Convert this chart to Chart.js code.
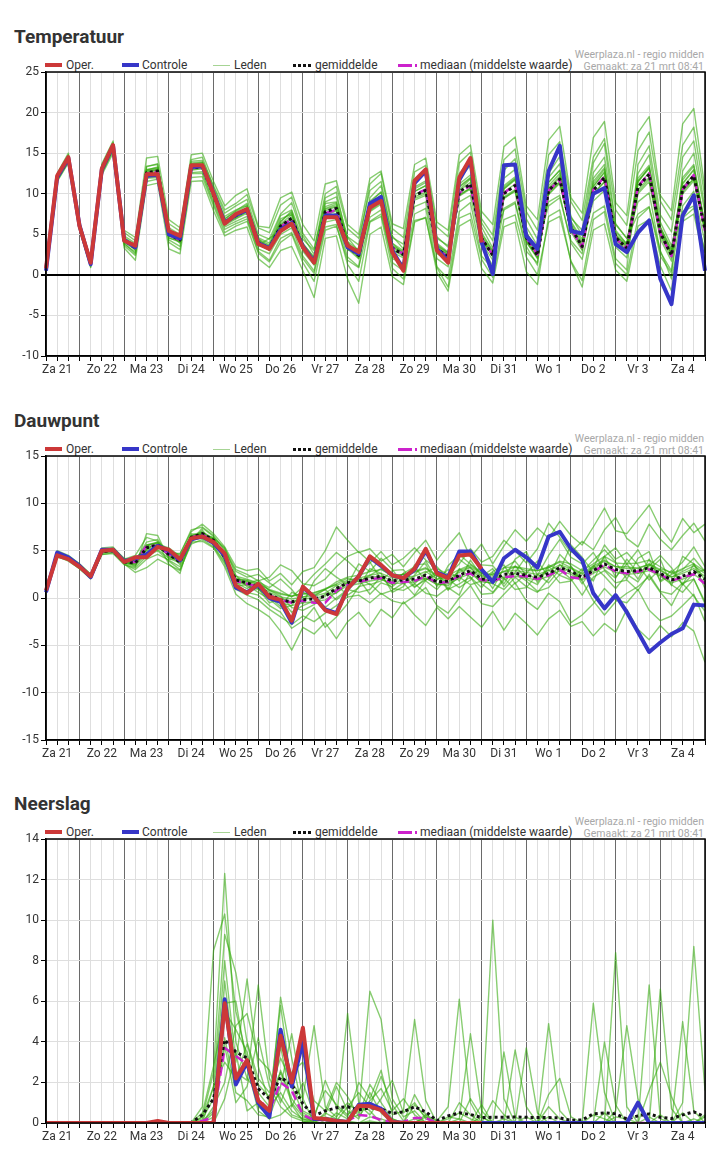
<!DOCTYPE html>
<html><head><meta charset="utf-8">
<script src="https://cdn.jsdelivr.net/npm/chart.js"></script>
<style>
body{margin:0;background:#fff;width:724px;height:1154px;position:relative;font-family:Roboto,Arial,sans-serif;overflow:hidden}
.title{position:absolute;left:14px;font-size:19px;font-weight:bold;color:#333;line-height:22px;white-space:nowrap}
.src{position:absolute;right:20px;font-size:10.5px;color:#a8a8a8;text-align:right;line-height:12px;white-space:nowrap}
.lg{position:absolute;font-size:12px;color:#333;line-height:14px;white-space:nowrap}
.ln{position:absolute}
canvas{position:absolute;left:0}
</style></head><body>
<script>
// ---------- DATA ----------
const dayLabels = ['Za 21','Zo 22','Ma 23','Di 24','Wo 25','Do 26','Vr 27','Za 28','Zo 29','Ma 30','Di 31','Wo 1','Do 2','Vr 3','Za 4'];
const N20 = [null,null,null,null,null,null,null,null,null,null,null,null,null,null,null,null,null,null,null,null];

// Temperatuur
const tempOper = [0.8,12.2,14.5,6.0, 1.5,13.1,16.0,4.2, 3.6,12.4,12.4,5.4, 4.8,13.5,13.5,10.0, 6.3,7.5,8.1,3.8, 3.2,5.4,6.3,3.4, 1.5,7.1,7.1,3.6, 2.8,8.3,9.1,2.8, 0.5,11.6,13.0,3.0, 1.5,12.0,14.4,4.0].concat(N20);
const tempCtrl = [0.5,12.0,14.4,6.1, 1.3,13.0,15.9,4.3, 3.4,12.2,12.3,5.0, 4.5,13.3,13.4,10.1, 6.4,7.4,8.0,3.9, 3.3,5.6,6.4,3.5, 1.6,7.3,7.3,3.4, 2.6,8.8,9.6,3.0, 0.7,11.3,12.8,3.2, 1.7,11.7,14.1,4.0, 0.1,13.5,13.6,4.8, 3.2,12.8,15.9,5.4, 5.1,10.0,10.7,3.8, 2.8,5.2,6.7,-0.5, -3.6,7.3,9.8,0.5];
const tempMean = [0.8,12.0,14.3,6.0, 1.4,13.0,15.8,4.3, 3.3,12.6,12.8,5.0, 4.3,13.2,13.3,9.8, 6.5,7.3,8.0,4.0, 3.3,6.0,7.0,3.5, 1.6,7.8,8.2,3.5, 2.4,8.3,9.3,3.3, 2.5,9.8,10.4,3.2, 2.2,10.2,11.2,4.5, 2.4,10.0,11.0,4.6, 2.4,10.4,11.8,5.8, 3.5,10.4,12.0,4.6, 3.3,10.8,12.4,5.2, 2.4,10.6,12.2,5.5];
const tempMedian = [0.8,12.0,14.3,6.0, 1.4,13.0,15.8,4.3, 3.3,12.5,12.7,4.9, 4.3,13.2,13.3,9.8, 6.4,7.3,8.0,4.0, 3.3,5.9,6.9,3.5, 1.6,7.6,8.0,3.4, 2.5,8.2,9.2,3.3, 2.6,9.9,10.5,3.2, 2.2,10.1,11.0,4.4, 2.5,10.1,11.1,4.6, 2.5,10.4,11.7,5.7, 3.4,10.5,12.1,4.5, 3.2,10.9,12.5,5.1, 2.3,10.5,12.3,5.4];
const tempMembers = [
 [1.0,12.4,14.8,6.3, 1.7,13.4,16.2,4.8, 3.9,13.4,13.6,5.8, 5.0,14.2,14.5,10.8, 7.6,8.5,9.3,5.0, 4.4,7.5,8.9,4.8, 2.5,9.5,10.2,4.1, 2.0,7.1,8.0,1.5, 0.5,7.5,8.2,1.0, -0.5,7.8,8.9,2.3, 0.8,8.2,9.0,3.5, 1.2,12.5,14.6,7.0, 5.5,13.8,16.2,6.3, 4.5,9.0,10.1,2.8, 0.5,8.5,10.3,4.0],
 [0.5,11.6,13.9,5.6, 1.0,12.6,15.3,3.6, 2.4,11.5,11.8,4.0, 3.1,12.0,12.1,8.5, 5.2,6.0,6.6,2.7, 1.6,4.0,5.0,1.5, -0.8,5.5,6.0,1.8, 0.9,9.5,11.0,4.6, 3.8,11.6,12.9,4.5, 3.6,12.5,14.2,6.4, 4.2,12.9,14.3,6.9, 4.4,9.0,9.8,3.9, 1.9,7.6,8.5,2.0, 0.6,13.6,15.9,7.4, 5.3,14.5,16.5,8.2],
 [0.9,12.2,14.5,6.1, 1.6,13.3,16.1,4.6, 3.0,13.3,13.7,4.6, 4.0,13.8,13.9,9.5, 6.9,7.9,8.8,4.6, 3.9,7.3,8.0,4.4, 3.0,10.0,10.9,5.7, 4.5,10.4,11.5,4.8, 3.2,8.4,9.0,2.0, 1.0,11.8,13.5,5.9, 3.3,8.0,8.8,2.9, 1.5,12.0,13.7,7.2, 4.9,12.6,14.5,6.2, 4.5,7.5,8.4,2.3, 0.2,12.8,15.0,7.6],
 [0.7,11.8,14.0,5.8, 1.2,12.7,15.5,3.8, 2.8,12.0,12.2,5.4, 4.9,12.6,12.7,9.1, 5.9,6.6,7.2,3.2, 2.6,5.0,5.8,2.3, 0.5,6.5,6.8,2.2, 1.0,6.6,7.5,2.0, 1.4,11.8,12.6,4.7, 3.4,9.0,9.8,3.5, 1.1,11.9,13.0,5.9, 3.6,8.5,9.5,4.2, 2.6,10.9,12.7,5.5, 3.8,12.5,14.8,6.5, 3.6,7.0,8.2,3.0],
 [0.8,12.1,14.4,6.2, 1.5,13.1,15.9,4.1, 3.6,12.9,13.1,4.8, 4.5,13.6,13.8,10.4, 7.2,8.0,8.6,4.5, 3.0,6.5,7.9,2.9, 1.2,7.0,7.6,3.0, 3.3,8.9,10.2,3.9, 2.6,10.3,11.0,3.6, 2.7,10.9,12.0,4.0, 1.8,9.5,10.3,4.0, 2.2,10.7,12.2,6.1, 3.9,9.1,10.4,3.4, 2.1,10.0,11.5,4.4, 1.7,10.4,11.8,5.9],
 [0.6,11.9,14.2,5.9, 1.3,12.8,15.6,4.4, 3.3,12.5,12.6,5.1, 3.9,12.9,13.1,9.9, 6.1,6.9,7.6,3.6, 4.5,5.5,6.3,3.8, 2.2,8.2,8.7,4.6, 2.9,7.8,8.7,2.8, 2.1,9.2,9.8,3.7, 2.7,9.7,10.6,5.0, 2.9,10.6,11.8,5.2, 3.0,11.4,12.9,6.6, 4.4,11.2,13.0,5.0, 3.5,11.6,13.2,5.9, 3.2,11.3,13.0,6.2],
 [0.9,12.3,14.6,6.4, 1.8,13.5,16.3,5.2, 4.2,13.0,13.2,6.3, 5.4,14.0,14.1,11.0, 8.0,8.8,9.9,5.8, 5.2,8.6,9.6,5.1, 3.2,9.0,9.6,4.7, 3.7,11.2,12.5,5.7, 4.6,12.7,13.5,5.9, 4.7,13.8,15.1,6.9, 4.9,14.2,15.5,7.8, 5.5,14.8,16.4,9.0, 6.7,14.5,16.8,8.0, 6.1,15.3,17.6,9.1, 6.8,16.0,18.2,9.5],
 [0.7,11.7,14.1,5.7, 1.1,12.5,15.4,3.9, 2.6,11.9,12.0,4.3, 3.5,12.5,12.5,8.8, 5.6,6.3,6.9,2.9, 1.8,4.5,5.2,2.0, 0.2,5.9,6.2,1.3, -0.8,6.5,7.2,0.8, -0.5,6.7,7.0,0.9, -1.5,7.0,7.6,1.9, -0.3,6.8,7.4,2.2, 0.0,6.5,7.2,1.7, -0.7,6.8,7.8,1.4, 0.0,7.0,8.3,3.0, -0.5,6.6,7.5,1.3],
 [0.8,12.0,14.3,6.0, 1.4,13.0,15.8,4.5, 3.5,12.7,12.9,4.5, 4.2,13.0,13.5,10.1, 6.7,7.5,8.2,3.6, 3.5,6.2,6.8,3.1, 1.8,8.8,9.0,3.9, 2.6,8.9,9.6,3.6, 2.9,10.8,11.6,2.6, 1.8,10.5,11.8,4.1, 2.4,10.8,11.9,4.1, 2.0,10.0,11.4,5.3, 3.0,11.9,13.6,4.7, 3.5,11.4,13.3,5.6, 2.5,12.0,13.6,6.0],
 [0.9,12.1,14.2,6.2, 1.5,13.2,15.7,4.0, 3.1,12.3,12.6,5.3, 4.6,13.4,13.2,10.0, 6.3,7.1,7.8,4.2, 3.6,6.9,7.5,3.3, 1.5,7.5,8.0,3.3, 2.2,8.0,9.1,3.4, 2.8,9.6,10.2,3.3, 2.5,9.9,10.7,4.7, 2.7,9.4,10.4,4.2, 2.6,10.2,11.5,5.6, 3.4,10.0,11.5,4.3, 3.0,10.5,12.0,5.0, 2.6,10.2,11.9,5.4],
 [0.9,12.5,15.0,6.5, 1.9,13.7,16.5,5.5, 4.6,14.4,14.6,6.8, 5.8,14.8,15.0,11.5, 8.5,9.8,10.6,6.0, 5.8,9.5,10.2,6.2, 4.2,11.2,11.6,6.2, 5.0,11.9,12.8,6.3, 5.7,13.6,14.4,6.5, 5.5,14.8,16.0,7.8, 6.2,15.8,17.0,8.5, 6.8,16.6,18.3,9.5, 7.6,16.9,18.9,8.9, 7.3,17.5,19.5,9.8, 7.9,18.6,20.5,10.5],
 [0.6,11.5,13.8,5.5, 0.9,12.3,15.0,3.3, 1.8,11.0,11.3,3.2, 2.6,11.5,11.6,7.9, 4.8,5.5,5.9,2.0, 0.9,3.0,3.5,0.5, -2.8,4.5,4.8,-0.5, -3.5,5.0,5.9,-0.2, -1.2,6.5,7.1,0.3, -2.0,6.0,6.8,0.8, -1.0,5.9,6.5,0.4, -1.2,7.2,8.0,1.6, -1.5,5.5,6.3,0.6, -0.8,6.0,6.8,1.1, -2.0,7.8,8.5,2.7],
 [0.7,12.1,14.4,6.1, 1.5,13.1,15.9,4.4, 3.2,12.8,13.0,5.2, 4.4,13.4,13.5,10.0, 6.6,7.5,8.3,4.2, 3.1,6.3,7.4,3.7, 1.9,8.1,8.5,3.8, 2.8,8.7,9.8,3.6, 2.3,10.3,11.0,3.5, 2.5,10.8,11.9,4.8, 2.2,10.6,11.7,4.9, 2.7,11.0,12.5,6.2, 3.1,10.9,12.6,4.9, 3.7,11.5,13.1,5.6, 2.8,11.2,12.9,5.9],
 [0.8,11.9,14.2,5.9, 1.3,12.9,15.7,4.2, 3.2,12.4,12.6,4.8, 4.1,13.0,13.1,9.6, 6.3,7.0,7.8,3.8, 3.0,5.6,6.6,3.2, 1.3,7.3,7.9,3.2, 2.0,7.9,8.9,3.0, 2.7,9.4,10.0,2.9, 1.9,9.8,10.7,4.2, 2.6,9.6,10.5,4.3, 2.1,9.9,11.3,5.4, 3.7,10.0,11.4,4.4, 2.9,10.2,11.8,4.8, 2.1,10.0,11.6,5.2],
 [0.8,12.0,14.4,6.0, 1.4,13.0,15.8,4.3, 3.4,12.6,12.9,5.0, 4.3,13.3,13.4,9.9, 6.5,7.2,8.0,3.9, 3.4,6.1,7.1,3.6, 1.7,7.9,8.4,3.6, 2.5,8.5,9.5,3.1, 2.3,9.9,10.6,3.3, 2.4,10.4,11.4,4.6, 2.3,10.2,11.2,4.7, 2.5,10.5,12.0,5.9, 3.6,10.6,12.2,4.8, 3.2,11.0,12.6,5.3, 2.5,10.8,12.4,5.6],
 [0.9,12.2,14.6,6.1, 1.6,13.2,16.0,4.6, 3.7,12.9,13.3,5.4, 4.7,13.7,13.8,10.3, 6.9,7.8,8.5,4.4, 3.7,6.6,7.7,3.9, 2.1,8.4,8.9,4.1, 3.0,9.1,10.2,3.9, 3.0,10.6,11.4,3.9, 2.8,11.2,12.3,5.2, 3.0,11.0,12.1,5.3, 2.9,11.4,12.9,6.4, 4.1,11.5,13.2,5.3, 3.8,11.9,13.5,5.9, 3.0,11.7,13.4,6.2]
];

// Dauwpunt
const dewOper = [0.8,4.5,4.1,3.3, 2.3,5.0,5.1,3.8, 4.3,4.3,5.4,5.1, 4.1,6.3,6.5,5.9, 4.7,1.3,0.5,1.5, 0.1,-0.2,-2.4,1.2, 0.1,-1.3,-1.7,1.0, 2.3,4.4,3.5,2.4, 2.1,3.1,5.2,2.6, 2.1,4.5,4.6,3.1].concat(N20);
const dewCtrl = [0.6,4.8,4.3,3.4, 2.2,5.1,5.1,3.9, 4.2,4.6,5.5,5.0, 4.0,6.2,6.5,5.8, 4.5,1.1,0.6,1.4, 0.0,-0.4,-2.6,1.1, 0.1,-1.2,-1.6,1.0, 2.3,4.3,3.4,2.4, 2.1,3.0,5.0,2.7, 2.2,4.9,4.9,3.0, 1.7,4.2,5.1,4.3, 3.2,6.5,7.0,5.2, 4.0,0.5,-1.1,0.3, -1.5,-3.6,-5.7,-4.7, -3.8,-3.2,-0.7,-0.8];
const dewMean = [0.8,4.6,4.2,3.4, 2.3,4.9,5.0,3.8, 3.7,5.3,5.6,4.6, 3.8,6.4,6.8,6.1, 4.3,1.9,1.6,1.2, 0.4,-0.2,-0.4,-0.2, -0.1,0.2,1.0,1.6, 1.8,2.1,2.3,1.8, 1.9,2.0,2.4,1.7, 1.8,2.4,2.9,2.0, 1.9,2.5,2.6,2.4, 2.2,2.6,3.2,2.8, 2.2,2.9,3.6,3.0, 2.8,2.9,3.2,2.6, 1.9,2.3,2.8,2.0];
const dewMedian = [0.8,4.6,4.2,3.4, 2.3,4.9,5.0,3.8, 3.8,5.5,5.5,4.6, 3.9,6.4,6.7,6.0, 4.3,1.8,1.5,1.2, 0.3,-0.2,-0.5,-0.3, -0.5,-0.5,0.8,1.4, 1.7,2.0,2.1,1.6, 1.7,1.8,2.3,1.6, 1.7,2.3,2.6,1.9, 1.8,2.2,2.3,2.3, 2.0,2.4,3.0,2.2, 2.0,2.8,3.5,2.8, 2.6,2.8,3.0,2.5, 1.8,2.2,2.5,1.5];
const dewMembers = [
 [0.9,5.0,4.5,3.6, 2.5,5.3,5.4,4.1, 4.5,6.4,6.0,4.9, 4.6,7.2,7.5,6.6, 5.0,2.8,2.2,2.5, 1.6,0.8,0.1,1.2, 2.5,3.6,4.8,3.9, 2.8,3.7,4.9,3.5, 4.2,5.3,4.0,3.1, 2.5,3.6,5.2,3.8, 4.4,6.1,5.0,3.7, 5.2,7.9,6.4,4.8, 6.0,5.1,7.2,8.5, 6.3,5.4,7.8,6.2, 5.1,6.6,7.9,6.0],
 [0.7,4.3,4.0,3.1, 2.0,4.6,4.7,3.5, 3.2,4.4,5.0,3.9, 3.0,5.7,6.2,5.4, 3.6,0.9,0.3,-0.2, -1.2,-2.0,-2.8,-1.9, -2.5,-1.6,-0.8,0.1, 0.3,-0.5,0.5,-0.3, -0.6,0.2,1.1,-0.8, -1.6,0.0,1.3,-0.6, -0.9,0.4,1.6,-0.3, -1.2,0.5,-0.4,-2.6, -1.8,-0.6,1.0,-0.2, -0.5,0.9,-1.3,-2.4, -1.9,-0.8,0.4,-2.5],
 [0.8,4.7,4.3,3.5, 2.4,5.0,5.2,4.0, 3.9,5.9,6.2,4.3, 4.2,6.8,6.6,6.3, 5.2,3.0,2.5,1.8, 2.2,3.5,2.9,1.5, 1.3,2.0,3.3,4.4, 4.9,3.8,2.0,1.4, 2.6,3.3,1.8,0.9, 2.3,4.1,3.2,1.9, 2.8,3.5,1.5,2.6, 3.9,2.2,4.6,3.4, 1.5,3.2,5.6,4.1, 4.8,3.5,1.9,3.1, 2.7,3.8,5.4,3.3],
 [0.6,4.4,4.1,3.2, 2.2,4.8,4.9,3.7, 3.5,5.0,5.3,4.8, 3.5,6.1,6.9,6.0, 4.0,1.2,0.6,0.3, -0.8,-1.5,-3.2,-2.4, -1.0,-3.1,-2.0,-0.6, 1.2,1.5,0.4,0.8, 1.6,0.3,1.9,2.8, 0.9,1.5,2.2,0.4, 0.5,1.9,2.6,1.8, 0.7,1.1,2.5,3.3, 1.8,-0.3,-1.8,-0.4, 0.5,1.2,2.3,0.6, -0.8,1.5,0.2,-1.4],
 [0.8,4.9,4.4,3.4, 2.3,5.2,5.0,3.6, 3.0,4.1,4.6,4.0, 3.3,5.8,7.2,5.5, 3.8,1.9,1.5,1.9, 0.8,0.2,-1.0,-1.3, -0.7,0.4,0.5,1.6, 2.2,1.4,1.8,2.9, 3.0,1.5,2.7,3.3, 2.0,1.1,1.9,3.5, 3.4,2.0,4.1,4.9, 2.4,4.5,6.2,4.3, 3.6,4.8,3.0,2.1, 4.1,2.6,3.4,4.5, 3.2,1.4,2.6,3.0],
 [0.7,4.6,4.2,3.3, 2.3,4.7,5.1,3.9, 4.0,5.6,5.8,3.6, 2.6,6.6,6.7,6.4, 5.3,2.4,1.2,0.9, 0.1,-0.9,0.6,0.1, 0.5,1.0,1.4,0.3, 1.1,3.1,2.6,0.6, 1.2,3.5,3.6,1.2, 3.4,4.6,3.6,2.7, 1.0,3.2,3.9,2.4, 2.1,3.0,1.6,1.8, 2.8,4.0,5.1,3.8, 2.0,4.2,4.9,1.7, 2.5,3.0,4.2,2.8],
 [0.8,4.5,4.0,3.5, 2.4,4.9,5.0,3.8, 3.6,5.2,5.7,5.3, 4.4,6.5,6.4,5.7, 4.6,1.5,1.8,1.0, -0.5,-0.1,-1.5,-0.8, -0.3,-1.0,0.0,0.9, 0.6,0.9,2.3,1.0, 0.8,1.5,0.5,0.2, 1.1,0.3,2.9,1.5, 0.6,2.1,0.9,1.1, 2.5,1.6,3.0,2.0, 0.3,2.2,2.9,1.6, 1.9,0.8,2.5,0.7, 0.4,1.6,2.0,-0.6],
 [0.9,4.7,4.4,3.6, 2.5,5.1,5.3,4.2, 3.8,5.5,5.9,4.7, 4.7,7.0,7.8,6.8, 5.4,3.3,2.9,3.1, 1.8,2.6,1.4,2.8, 3.2,5.0,7.5,6.1, 4.8,5.2,3.9,4.6, 3.3,4.8,6.1,4.0, 5.5,6.9,4.3,5.7, 3.6,5.5,7.2,6.0, 7.4,6.3,8.1,6.6, 5.6,7.5,9.5,7.1, 6.8,8.3,9.8,7.4, 5.9,8.4,6.9,7.8],
 [0.7,4.4,3.9,3.1, 2.1,4.6,4.8,3.6, 2.7,3.2,4.1,3.5, 2.9,5.9,6.0,5.3, 3.3,0.4,-0.6,-1.2, -2.0,-3.5,-5.5,-3.1, -3.8,-2.6,-4.3,-2.5, -1.5,-3.0,-1.2,-2.1, -0.4,-1.8,-2.9,-1.0, -2.2,-0.9,-2.0,-3.1, -1.4,-3.4,-1.6,-2.7, -3.9,-2.2,-1.3,-3.0, -2.5,-4.0,-2.7,-3.6, -1.2,-3.3,-4.4,-2.9, -4.1,-2.6,-3.5,-6.8],
 [0.8,4.6,4.2,3.4, 2.3,4.9,5.0,3.8, 4.1,5.4,5.5,4.4, 3.9,6.2,6.8,6.1, 4.4,2.0,1.9,1.5, 0.9,0.5,0.2,0.4, 0.6,0.9,1.5,2.1, 1.7,2.4,3.1,2.3, 2.5,2.8,3.2,2.4, 1.6,2.9,3.3,2.6, 2.4,2.8,3.3,2.9, 2.9,3.2,3.8,3.2, 2.6,3.4,4.0,3.3, 3.3,3.1,3.6,3.0, 2.2,2.8,3.4,2.6],
 [0.8,4.7,4.1,3.3, 2.2,4.9,4.9,3.7, 3.3,6.8,6.6,4.1, 4.2,6.0,7.4,6.5, 3.9,1.6,1.0,1.7, 1.1,2.0,0.9,-0.6, 1.8,3.1,2.2,1.4, 3.6,2.8,4.2,3.0, 1.5,2.4,3.9,1.9, 3.0,1.8,4.0,2.3, 3.1,1.2,2.7,4.4, 1.6,3.5,2.9,5.6, 4.3,2.7,4.4,5.3, 3.6,5.1,3.0,4.1, 1.3,4.4,3.6,1.9],
 [0.7,4.5,4.3,3.4, 2.4,4.8,5.1,3.9, 3.4,4.7,5.1,4.2, 3.7,6.6,6.3,5.9, 4.1,1.3,1.4,0.6, -0.1,-1.1,-0.8,0.6, 0.2,0.9,-0.2,0.8, 2.0,0.4,1.6,1.2, 2.2,1.1,2.1,1.5, 1.3,2.2,1.4,1.8, 1.5,0.9,2.2,1.2, 0.6,2.0,3.5,2.7, 2.0,3.4,2.3,1.0, 2.5,1.7,3.6,2.4, 1.4,0.6,2.0,-0.4],
 [0.8,4.6,4.2,3.4, 2.3,5.0,5.1,3.9, 3.8,5.5,5.8,4.7, 3.9,6.5,6.9,6.2, 4.4,2.1,1.8,1.4, 0.6,0.1,-0.1,0.1, 0.2,0.5,1.3,1.9, 2.1,2.4,2.6,2.1, 2.2,2.3,2.8,2.0, 2.1,2.7,3.2,2.3, 2.2,2.8,2.9,2.7, 2.5,2.9,3.5,3.1, 2.5,3.2,3.9,3.3, 3.1,3.2,3.5,2.9, 2.2,2.6,3.1,2.3],
 [0.7,4.5,4.1,3.3, 2.2,4.8,4.9,3.7, 3.6,5.1,5.4,4.5, 3.7,6.3,6.7,6.0, 4.2,1.7,1.4,1.0, 0.2,-0.5,-0.8,-0.5, -0.4,-0.2,0.6,1.3, 1.5,1.8,2.0,1.5, 1.6,1.7,2.1,1.4, 1.5,2.1,2.6,1.7, 1.6,2.2,2.3,2.1, 1.9,2.3,2.9,2.5, 1.9,2.6,3.3,2.7, 2.5,2.6,2.9,2.3, 1.6,2.0,2.5,1.7],
 [0.8,4.7,4.3,3.4, 2.3,4.9,5.0,3.8, 3.7,5.3,5.6,4.6, 3.8,6.4,6.8,6.1, 4.3,2.0,1.6,1.3, 0.4,-0.1,-0.4,-0.1, 0.0,0.2,1.0,1.7, 1.8,2.2,2.3,1.8, 2.6,1.2,1.9,2.5, 0.8,3.1,2.2,1.1, 2.7,1.5,3.4,2.0, 1.4,3.3,2.4,1.9, 3.1,1.8,4.4,2.2, 3.6,2.0,4.1,1.8, 2.9,1.4,3.6,1.0],
 [0.9,4.8,4.4,3.5, 2.4,5.1,5.2,4.0, 3.9,5.6,5.9,4.8, 4.0,6.6,7.0,6.3, 4.6,2.3,2.0,1.6, 0.8,0.4,0.2,0.5, 0.3,0.9,1.7,2.2, 2.4,2.8,3.0,2.4, 2.5,2.7,3.1,2.3, 2.4,3.0,3.5,2.6, 2.5,3.2,3.3,3.1, 2.9,3.3,3.9,3.6, 2.9,3.6,4.4,3.7, 3.6,3.7,4.0,3.3, 2.6,3.1,3.6,2.8]
];

// Neerslag
const rainOper = [0,0,0,0, 0,0,0,0, 0,0,0.1,0, 0,0,0,0, 5.9,2.2,3.1,1.1, 0.6,4.3,2.0,4.7, 0.25,0.2,0.1,0.05, 0.85,0.82,0.63,0.05, 0,0,0,0, 0,0,0,0].concat(N20);
const rainCtrl = [0,0,0,0, 0,0,0,0, 0,0,0,0, 0,0,0,0, 6.1,1.9,3.0,1.0, 0.3,4.6,1.8,4.0, 0.2,0.2,0.1,0.05, 0.9,0.95,0.7,0.05, 0,0,0,0, 0,0,0,0, 0,0,0,0, 0,0,0,0, 0,0,0,0, 0,1.0,0,0, 0,0,0,0];
const rainMean = [0,0,0,0, 0,0,0,0, 0,0,0,0, 0,0.02,0.4,1.2, 4.1,3.5,3.2,1.7, 1.2,2.25,1.9,0.95, 0.35,0.6,0.75,0.8, 0.65,0.75,0.7,0.47, 0.55,0.8,0.55,0.12, 0.35,0.5,0.42,0.27, 0.28,0.28,0.3,0.28, 0.27,0.27,0.25,0.13, 0.15,0.45,0.5,0.45, 0.2,0.35,0.45,0.28, 0.22,0.4,0.55,0.3];
const rainMedian = [0,0,0,0, 0,0,0,0, 0,0,0,0, 0,0,0.1,0.3, 3.7,3.3,2.9,1.2, 0.6,2.0,1.6,0.4, 0.15,0.15,0.1,0.1, 0.4,0.35,0.15,0.05, 0.05,0.25,0.25,0, 0,0,0,0, 0,0,0,0, 0,0,0,0, 0,0,0,0, 0,0,0,0, 0,0,0,0];
const rainMembers = [
 [0,0,0,0, 0,0,0,0, 0,0,0,0, 0,0,0.3,2.5, 12.3,4.0,2.2,1.5, 0.8,1.5,0.6,0.2, 0.1,0.4,1.8,0.6, 0.2,1.5,0.5,0, 0,0,0.3,0, 0,0.2,0,0, 10.0,1.2,0,0, 0,0.3,0,0, 0,0,0.5,0, 0,0,0,0.4, 0,0,0.2,0],
 [0,0,0,0, 0,0,0,0, 0,0,0,0, 0,0,0.8,8.5, 10.3,5.5,3.2,0.8, 0.4,2.6,1.2,0.4, 0,0,0.2,5.4, 1.0,0.6,0,0, 0,1.4,0.4,0, 0,0,0,0.3, 0,0,3.6,0.8, 0,0,0,0, 0,5.9,1.5,0, 0,0,0.3,0, 0,1.0,8.7,1.6],
 [0,0,0,0, 0,0,0,0, 0,0,0,0, 0,0,0,1.8, 9.3,7.4,4.0,2.2, 1.5,3.2,2.0,1.2, 4.8,0.8,0.3,1.0, 0.5,6.5,5.1,1.2, 0.3,0.6,0,0, 0,0,0,0, 0,0,0,0, 0,4.9,0.6,0, 0,0,0,8.4, 0.8,0,0,0, 0,0,0,0],
 [0,0,0,0, 0,0,0,0, 0,0,0,0, 0,0,0.2,1.2, 8.0,3.0,7.1,2.8, 1.0,5.8,1.8,0.5, 0.2,2.1,0.8,0.3, 2.0,1.2,2.6,0.4, 0.6,5.1,1.1,0, 0,1.0,0.4,0, 0,0,0,0, 0,0.8,0.2,0, 0,0,4.0,0.9, 0,0,6.8,0.2, 0,0.5,0,0],
 [0,0,0,0, 0,0,0,0, 0,0,0,0, 0,0,0,0.5, 7.0,2.5,2.1,6.8, 2.2,1.2,0.4,0.2, 0,0.3,0.1,0.8, 1.5,0.8,2.3,0.9, 0.1,0,0.4,0.1, 0.8,6.1,1.0,0, 0,0,0,0, 0,0,0,0, 0,0,0,0.6, 4.8,1.2,0,0, 0,0,0,0.3],
 [0,0,0,0, 0,0,0,0, 0,0,0,0, 0,0,0.5,2.8, 5.5,4.6,3.5,1.2, 0.5,6.2,3.2,0.6, 0.3,0,0.5,0.2, 0.4,1.9,1.0,0.2, 0,0.9,0.3,0, 0.3,0.2,4.4,0.6, 0,0,0,3.7, 0.5,0,0,0, 0,0,0,0, 0,0,0,6.6, 0.7,0,0,0],
 [0,0,0,0, 0,0,0,0, 0,0,0,0, 0,0,0,0, 4.2,1.5,1.1,0.4, 0.3,1.8,4.4,1.2, 0,0.5,0.2,0.1, 0,0.3,0.2,0, 0,0.2,0,0, 0,0,0,0, 0,3.5,0.3,0, 0,0,0,0, 0,0,0,0, 0,0,0,0, 0,5.0,0.6,0],
 [0,0,0,0, 0,0,0,0, 0,0,0,0, 0,0,0.3,1.8, 3.0,2.2,3.9,1.9, 1.3,2.5,1.0,0.3, 0.1,0.2,0,0, 0,0.1,0,0.2, 0,0,0,0, 0,0,1.2,0.3, 0,0,0,0, 0,0,0,0, 0,0.4,0.2,0, 0,0,0,0, 0,0,0,0],
 [0,0,0,0, 0,0,0,0, 0,0,0,0, 0,0,0,0.8, 2.0,4.8,5.4,3.2, 2.6,1.0,2.5,3.0, 1.1,0.6,2.0,1.3, 0.3,1.1,1.7,0.6, 1.2,0.4,0,0, 0,0,0,0.9, 0,0,0,0, 0,1.4,2.2,0.3, 0,0,0,0, 0,0,1.6,3.0, 1.3,0,0,0],
 [0,0,0,0, 0,0,0,0, 0,0,0,0, 0,0,0,0, 1.2,3.5,0.6,1.0, 0.2,0.4,0.9,0.1, 0,0,0,0, 0,0,0,0, 0,0,0,0, 0,0,0,0, 0,0,0,0, 0,0,0,0, 0,0,0,0, 0,0,0,0, 0,0,0,0],
 [0,0,0,0, 0,0,0,0, 0,0,0,0, 0,0,0.1,0.6, 5.9,6.0,2.8,0.6, 0.2,3.8,0.8,2.0, 0.4,1.6,0.9,0.4, 0.9,0.4,1.2,2.1, 0.5,1.0,0.2,0, 0.2,0.5,0.2,0, 1.1,0.4,0,0.3, 0,0,0,0, 0,0,0,0.3, 0.2,0,0,0, 0,0,0,0.4],
 [0,0,0,0, 0,0,0,0, 0,0,0,0, 0,0,0,0.3, 3.8,1.0,1.8,4.2, 1.8,0.8,0.3,0.1, 0,0,0,0, 0,0,0,0, 0,0,0,0, 0,0,0,0, 0,0.2,0,0, 0,0,0,0, 0.1,0,0,0, 0,0,0,0, 0,0,0,0]
];

// ---------- STYLE ----------
const C_OPER = '#cc3838', C_CTRL = '#3636c8', C_MEAN = '#111', C_MED = '#cc22cc', C_MEM = 'rgba(50,168,10,0.58)';
Chart.defaults.font.family = 'Roboto, Arial, sans-serif';
Chart.defaults.font.size = 12;
Chart.defaults.color = '#333';

const frame = {id:'frame', afterDraw(c){const a=c.chartArea, x=c.ctx; x.save(); x.strokeStyle='#000'; x.lineWidth=1.5; x.strokeRect(a.left, a.top, a.right-a.left, a.bottom-a.top); x.restore();}};

const OFFS = [0, 384, 767];
const panels = [
 {title:'Temperatuur', min:-10, max:25, step:5, zero:true, oper:tempOper, ctrl:tempCtrl, mean:tempMean, median:tempMedian, members:tempMembers},
 {title:'Dauwpunt', min:-15, max:15, step:5, zero:false, oper:dewOper, ctrl:dewCtrl, mean:dewMean, median:dewMedian, members:dewMembers},
 {title:'Neerslag', min:0, max:14, step:2, zero:false, oper:rainOper, ctrl:rainCtrl, mean:rainMean, median:rainMedian, members:rainMembers}
];

function el(tag, cls, css, text){const e=document.createElement(tag); if(cls) e.className=cls; Object.assign(e.style, css||{}); if(text!==undefined) e.textContent=text; document.body.appendChild(e); return e;}

function legend(yc){
  const items = [
    {x:45,w:17,h:4,bg:C_OPER,tx:66,t:'Oper.'},
    {x:122,w:17,h:4,bg:C_CTRL,tx:142,t:'Controle'},
    {x:213,w:17,h:1,bg:'#a6d494',tx:234,t:'Leden'},
    {x:293,w:19,h:3,bg:'repeating-linear-gradient(90deg,#111 0 3px,transparent 3px 5px)',tx:315,t:'gemiddelde'},
    {x:398,w:20,h:3,bg:'linear-gradient(90deg,'+C_MED+' 0 14px,transparent 14px 17px,'+C_MED+' 17px 19px,transparent 19px)',tx:420,t:'mediaan (middelste waarde)'}
  ];
  items.forEach(it=>{
    el('div','ln',{left:it.x+'px',top:(yc-it.h/2)+'px',width:it.w+'px',height:it.h+'px',background:it.bg});
    el('div','lg',{left:it.tx+'px',top:(yc-7)+'px'},it.t);
  });
}

const xIdx = Array.from({length:60},(_, i)=>String(i));

panels.forEach((p, k)=>{
  const o = OFFS[k];
  el('div','title',{top:(26+o)+'px'},p.title);
  el('div','src',{top:(49+o)+'px'},'Weerplaza.nl - regio midden');
  el('div','src',{top:(61+o)+'px'},'Gemaakt: za 21 mrt 08:41');
  legend(65+o);
  const cv = document.createElement('canvas');
  cv.width = 724; cv.height = 326;
  cv.style.top = (62+o)+'px'; cv.style.width='724px'; cv.style.height='326px';
  document.body.appendChild(cv);
  const base = {pointRadius:0, tension:0, fill:false, spanGaps:false, borderJoinStyle:'round'};
  const ds = [
    Object.assign({label:'Oper.', data:p.oper, borderColor:C_OPER, borderWidth:4}, base),
    Object.assign({label:'Controle', data:p.ctrl, borderColor:C_CTRL, borderWidth:4}, base),
    Object.assign({label:'gemiddelde', data:p.mean, borderColor:C_MEAN, borderWidth:3, borderDash:[3,3]}, base),
    Object.assign({label:'mediaan (middelste waarde)', data:p.median, borderColor:C_MED, borderWidth:2.5, borderDash:[9,5]}, base)
  ];
  p.members.forEach(m=>ds.push(Object.assign({label:'Leden', data:m, borderColor:C_MEM, borderWidth:1.4}, base)));
  new Chart(cv, {
    type:'line',
    data:{labels:xIdx, datasets:ds},
    plugins:[frame],
    options:{
      responsive:false, animation:false, events:[],
      layout:{padding:{top:10,right:19,left:0,bottom:0}},
      plugins:{legend:{display:false}, tooltip:{enabled:false}},
      scales:{
        x:{type:'category', offset:false,
           grid:{color:(c)=> (c.index%4===3 ? '#6a6a6a' : '#dedede'), lineWidth:1, tickColor:'#000', tickLength:5, drawTicks:true},
           border:{display:true, color:'#000', width:1.5},
           ticks:{autoSkip:false, maxRotation:0, minRotation:0, padding:2, color:'#333',
                  callback:(v,i)=> (i%4===1 ? dayLabels[(i-1)/4] : '')},
           afterFit:(s)=>{s.height=32;}},
        y:{min:p.min, max:p.max,
           ticks:{stepSize:p.step, padding:2, color:'#333'},
           grid:{color:(c)=> (p.zero && c.tick && c.tick.value===0 ? '#000' : '#dedede'),
                 lineWidth:(c)=> (p.zero && c.tick && c.tick.value===0 ? 2 : 1),
                 tickColor:'#000', tickLength:5},
           border:{display:true, color:'#000', width:1.5},
           afterFit:(s)=>{s.width=46;}}
      }
    }
  });
});
</script>
</body></html>
